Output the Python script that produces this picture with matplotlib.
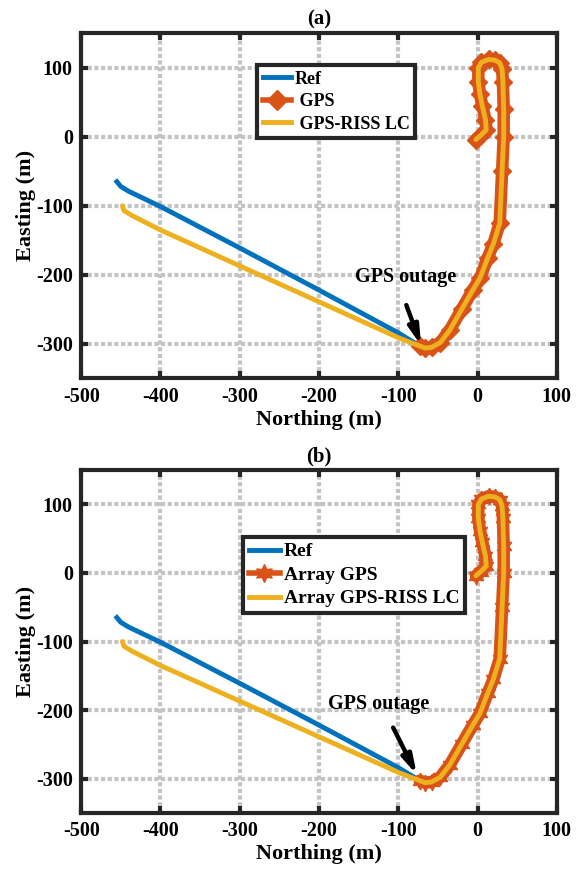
import matplotlib.pyplot as plt
from matplotlib.lines import Line2D

plt.rcParams['font.family'] = ['Liberation Serif', 'DejaVu Serif']
plt.rcParams['font.weight'] = 'bold'
plt.rcParams['axes.unicode_minus'] = False

# GPS track (Northing, Easting) from start to the outage point
gps_n = [-2, 4, 11, 10, 6, 3, 1, 1, 5, 14, 22, 28, 31, 32, 33, 33, 31, 28, 20, 13, 3, -6, -20, -35, -47, -58, -66, -73]
gps_e = [-4, 2, 10, 25, 45, 62, 80, 100, 108, 112, 111, 107, 98, 80, 40, 0, -50, -125, -155, -175, -205, -222, -250, -280, -298, -305, -306, -303]

# during the outage
ref_out_n = [-100, -200, -300, -400, -440, -450, -455]
ref_out_e = [-284, -222, -161, -101, -79, -72, -65]
lc_out_n = [-100, -200, -300, -346, -400, -436, -446, -448]
lc_out_e = [-291, -239, -187, -163, -135, -114, -107, -100]

ref_n = gps_n + ref_out_n
ref_e = gps_e + ref_out_e
lc_n = gps_n + lc_out_n
lc_e = gps_e + lc_out_e

c_ref = (0.0, 0.447, 0.741)
c_gps = (0.85, 0.325, 0.098)
c_lc = (0.929, 0.694, 0.125)

panels = [
    dict(title='(a)', labels=['Ref', ' GPS', ' GPS-RISS LC'], marker='D', ms=9, legsize=13,
         leg=(0.37, 0.907), txt=(-91, -203), tail=(-91, -240), head=(-70, -306)),
    dict(title='(b)', labels=['Ref', 'Array GPS', 'Array GPS-RISS LC'], marker=(6, 1, 0), ms=12,
         legsize=14, leg=(0.34, 0.805), txt=(-125, -191), tail=(-108, -222), head=(-75, -298)),
]

fig = plt.figure(figsize=(5.8, 8.74), dpi=100)
boxes = [[0.140, 0.567, 0.820, 0.395], [0.140, 0.070, 0.820, 0.392]]

for box, p in zip(boxes, panels):
    ax = fig.add_axes(box)
    ax.plot(ref_n, ref_e, color=c_ref, lw=3.5)
    ax.plot(gps_n, gps_e, color=c_gps, lw=9, solid_capstyle='round', solid_joinstyle='round')
    ax.plot(gps_n, gps_e, ls='none', color=c_gps, marker=p['marker'], ms=p['ms'])
    ax.plot(lc_n, lc_e, color=c_lc, lw=3.5, solid_capstyle='round')

    ax.set_xlim(-500, 100)
    ax.set_ylim(-350, 150)
    ax.set_xticks(range(-500, 101, 100))
    ax.set_yticks(range(-300, 101, 100))
    ax.grid(True, color='#c4c4c4', lw=3, ls=(0, (1, 0.6)))
    ax.set_axisbelow(True)
    for s in ax.spines.values():
        s.set_linewidth(3)
        s.set_color('#262626')
    ax.tick_params(direction='in', length=5, width=3, top=True, right=True,
                   labelsize=14.5, colors='#262626', pad=6)
    for t in ax.get_xticklabels() + ax.get_yticklabels():
        t.set_fontweight('bold')
        t.set_color('black')
    ax.set_xlabel('Northing (m)', fontsize=16, fontweight='bold', labelpad=2)
    ax.set_ylabel('Easting (m)', fontsize=16, fontweight='bold', labelpad=0)
    ax.set_title(p['title'], fontsize=15, fontweight='bold', pad=6)

    ax.annotate('', xy=p['head'], xytext=p['tail'],
                arrowprops=dict(arrowstyle='-|>,head_length=1.1,head_width=0.3',
                                color='black', lw=3.2))
    ax.text(p['txt'][0], p['txt'][1], 'GPS outage', fontsize=14.5, fontweight='bold',
            ha='center', va='center')

    handles = [
        Line2D([], [], color=c_ref, lw=3.5),
        Line2D([], [], color=c_gps, lw=4, marker=p['marker'], ms=p['ms'] + 1),
        Line2D([], [], color=c_lc, lw=3.5),
    ]
    leg = ax.legend(handles, p['labels'], loc='upper left', bbox_to_anchor=p['leg'],
                    borderaxespad=0,
                    prop=dict(family='Liberation Serif', weight='bold', size=p['legsize']),
                    fancybox=False, framealpha=1, edgecolor='#262626',
                    handlelength=1.6, handletextpad=0.2, labelspacing=0.3,
                    borderpad=0.3)
    leg.get_frame().set_linewidth(3)

fig.savefig('out.png', dpi=100)
